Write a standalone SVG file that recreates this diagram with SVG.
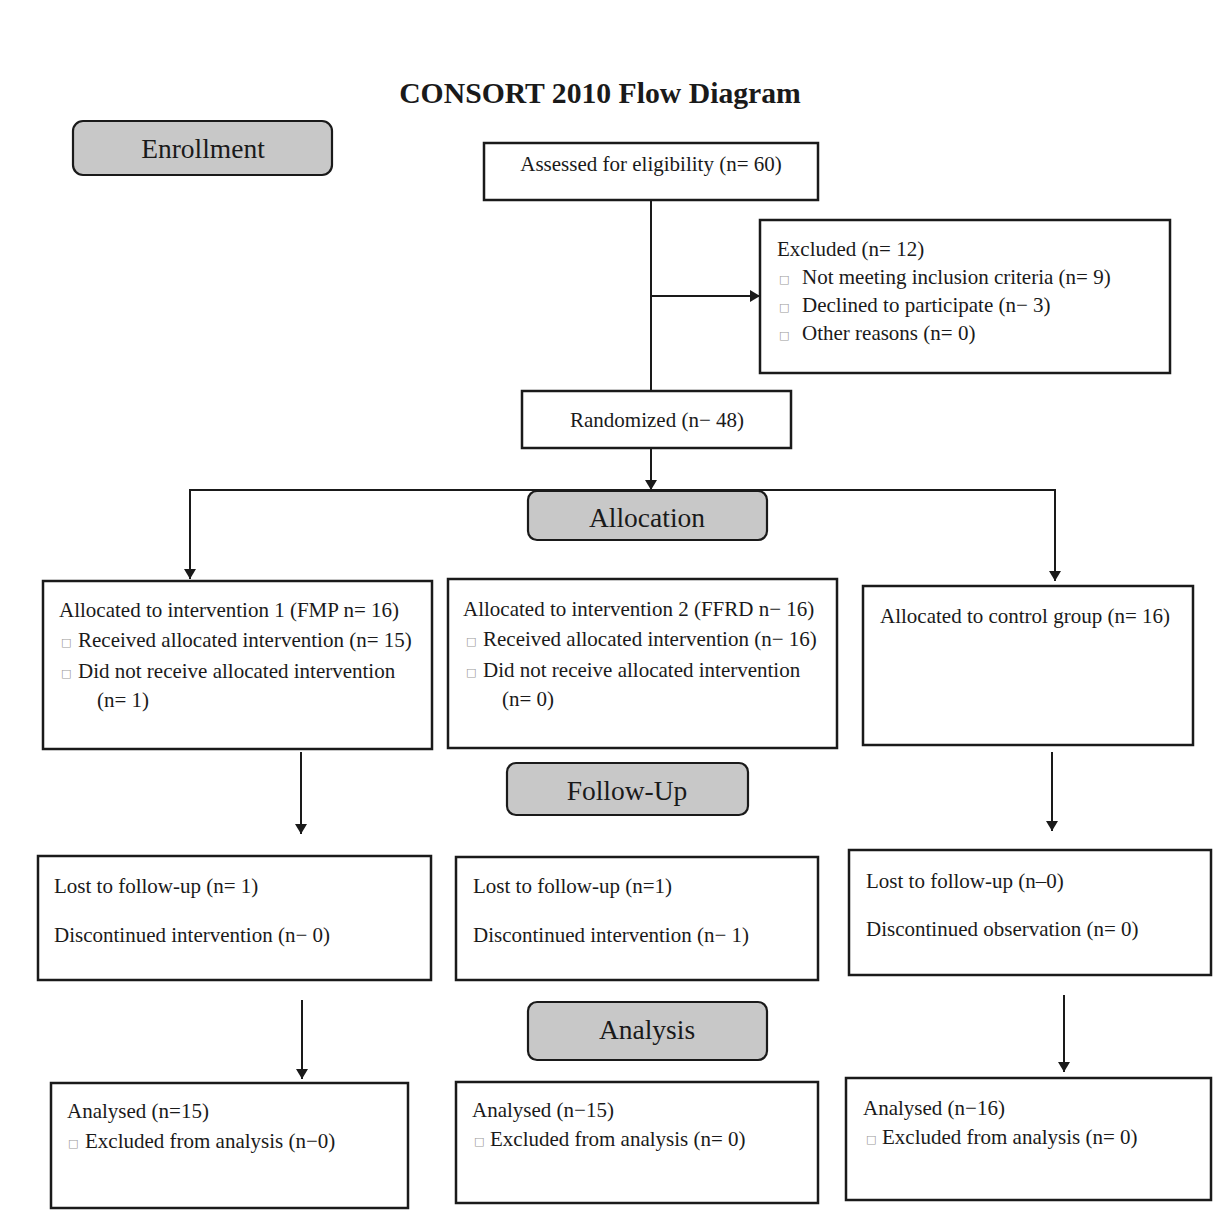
<svg xmlns="http://www.w3.org/2000/svg" width="1227" height="1214" viewBox="0 0 1227 1214">
<style>
.box{fill:#fff;stroke:#1a1a1a;stroke-width:2.5}
.stage{fill:#c8c8c8;stroke:#1a1a1a;stroke-width:2.2}
.t{font-family:"Liberation Serif","Times New Roman",serif;font-size:21px;fill:#1a1a1a}
.st{font-family:"Liberation Serif","Times New Roman",serif;font-size:27.5px;fill:#1a1a1a;text-anchor:middle}
.b{font-family:"DejaVu Sans",sans-serif;font-size:11px;fill:#999}
.ln{stroke:#1a1a1a;stroke-width:2;fill:none}
</style>
<defs>
<marker id="ah" markerWidth="10" markerHeight="12" refX="10" refY="6" orient="auto" markerUnits="userSpaceOnUse">
<path d="M0,0 L10,6 L0,12 Z" fill="#1a1a1a"/>
</marker>
</defs>
<rect width="1227" height="1214" fill="#fff"/>
<text x="600" y="103" font-family="Liberation Serif,Times New Roman,serif" font-size="29.7" font-weight="bold" text-anchor="middle" fill="#1a1a1a">CONSORT 2010 Flow Diagram</text>

<g id="connectors">
<line class="ln" x1="651" y1="200" x2="651" y2="391"/>
<line class="ln" x1="651" y1="296" x2="760" y2="296" marker-end="url(#ah)"/>
<line class="ln" x1="651" y1="448" x2="651" y2="490" marker-end="url(#ah)"/>
<polyline class="ln" points="190,578 190,490 1055,490 1055,580" />
<line class="ln" x1="190" y1="540" x2="190" y2="579" marker-end="url(#ah)"/>
<line class="ln" x1="1055" y1="540" x2="1055" y2="581" marker-end="url(#ah)"/>
<line class="ln" x1="301" y1="752" x2="301" y2="834" marker-end="url(#ah)"/>
<line class="ln" x1="1052" y1="752" x2="1052" y2="831" marker-end="url(#ah)"/>
<line class="ln" x1="302" y1="1000" x2="302" y2="1079" marker-end="url(#ah)"/>
<line class="ln" x1="1064" y1="995" x2="1064" y2="1072" marker-end="url(#ah)"/>
</g>

<g id="enrollment"><rect class="stage" x="73" y="121" width="259" height="54" rx="10"/><text class="st" x="203" y="158">Enrollment</text></g>
<g id="allocation"><rect class="stage" x="528" y="491" width="239" height="49" rx="9"/><text class="st" x="647" y="527">Allocation</text></g>
<g id="followup"><rect class="stage" x="507" y="763" width="241" height="52" rx="9"/><text class="st" x="627" y="800">Follow-Up</text></g>
<g id="analysis"><rect class="stage" x="528" y="1002" width="239" height="58" rx="9"/><text class="st" x="647" y="1039">Analysis</text></g>

<g id="assessed"><rect class="box" x="484" y="143" width="334" height="57"/><text class="t" x="651" y="171" text-anchor="middle">Assessed for eligibility (n= 60)</text></g>

<g id="excluded"><rect class="box" x="760" y="220" width="410" height="153"/>
<text class="t" x="777" y="256">Excluded (n= 12)</text>
<text class="b" x="779" y="283">□</text><text class="t" x="802" y="284">Not meeting inclusion criteria (n= 9)</text>
<text class="b" x="779" y="311">□</text><text class="t" x="802" y="312">Declined to participate (n− 3)</text>
<text class="b" x="779" y="339">□</text><text class="t" x="802" y="340">Other reasons (n= 0)</text>
</g>

<g id="randomized"><rect class="box" x="522" y="391" width="269" height="57"/><text class="t" x="657" y="427" text-anchor="middle">Randomized (n− 48)</text></g>

<g id="alloc1"><rect class="box" x="43" y="581" width="389" height="168"/>
<text class="t" x="59" y="617">Allocated to intervention 1 (FMP n= 16)</text>
<text class="b" x="61" y="646">□</text><text class="t" x="78" y="647">Received allocated intervention (n= 15)</text>
<text class="b" x="61" y="677">□</text><text class="t" x="78" y="678">Did not receive allocated intervention</text>
<text class="t" x="97" y="707">(n= 1)</text>
</g>

<g id="alloc2"><rect class="box" x="448" y="579" width="389" height="169"/>
<text class="t" x="463" y="616">Allocated to intervention 2 (FFRD n− 16)</text>
<text class="b" x="466" y="645">□</text><text class="t" x="483" y="646">Received allocated intervention (n− 16)</text>
<text class="b" x="466" y="676">□</text><text class="t" x="483" y="677">Did not receive allocated intervention</text>
<text class="t" x="502" y="706">(n= 0)</text>
</g>

<g id="alloc3"><rect class="box" x="863" y="586" width="330" height="159"/>
<text class="t" x="880" y="623">Allocated to control group (n= 16)</text>
</g>

<g id="fu1"><rect class="box" x="38" y="856" width="393" height="124"/>
<text class="t" x="54" y="893">Lost to follow-up (n= 1)</text>
<text class="t" x="54" y="942">Discontinued intervention (n− 0)</text>
</g>
<g id="fu2"><rect class="box" x="456" y="857" width="362" height="123"/>
<text class="t" x="473" y="893">Lost to follow-up (n=1)</text>
<text class="t" x="473" y="942">Discontinued intervention (n− 1)</text>
</g>
<g id="fu3"><rect class="box" x="849" y="850" width="362" height="125"/>
<text class="t" x="866" y="888">Lost to follow-up (n–0)</text>
<text class="t" x="866" y="936">Discontinued observation (n= 0)</text>
</g>

<g id="an1"><rect class="box" x="51" y="1083" width="357" height="125"/>
<text class="t" x="67" y="1118">Analysed (n=15)</text>
<text class="b" x="68" y="1147">□</text><text class="t" x="85" y="1148">Excluded from analysis (n−0)</text>
</g>
<g id="an2"><rect class="box" x="456" y="1082" width="362" height="121"/>
<text class="t" x="472" y="1117">Analysed (n−15)</text>
<text class="b" x="474" y="1145">□</text><text class="t" x="490" y="1146">Excluded from analysis (n= 0)</text>
</g>
<g id="an3"><rect class="box" x="846" y="1078" width="365" height="122"/>
<text class="t" x="863" y="1115">Analysed (n−16)</text>
<text class="b" x="866" y="1143">□</text><text class="t" x="882" y="1144">Excluded from analysis (n= 0)</text>
</g>
</svg>
